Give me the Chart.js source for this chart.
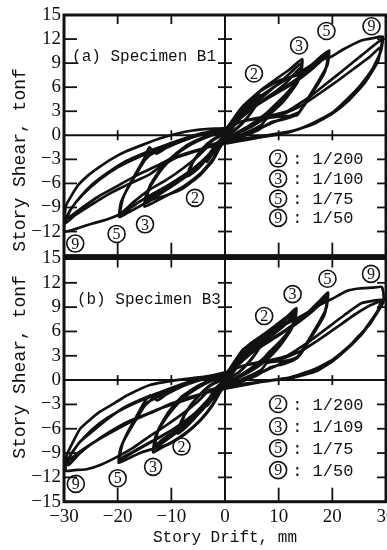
<!DOCTYPE html>
<html><head><meta charset="utf-8">
<script src="https://cdn.jsdelivr.net/npm/chart.js@4/dist/chart.umd.min.js"></script>
<style>
html,body{margin:0;padding:0;background:#fff;overflow:hidden;width:387px;height:550px;position:relative}
canvas{position:absolute;left:0}
#ca{top:0}
#cb{top:240px}
</style></head><body>
<canvas id="ca" width="400" height="270"></canvas>
<canvas id="cb" width="400" height="310"></canvas>
<script>
// ---------- data (story drift mm, story shear tonf) ----------
const xTickValues = [-30,-20,-10,0,10,20,30];
const yTickValues = [-15,-12,-9,-6,-3,0,3,6,9,12,15];
const legendIds = ['2','3','5','9'];
const legendB1 = ['1/200','1/100','1/75','1/50'];
const legendB3 = ['1/200','1/109','1/75','1/50'];

const b1Cycle1 = [[0,0],[1,1.1],[2.2,2.3],[3.2,3.2],[2.8,2.4],[1.5,1.0],[0,0.1],[-1.2,-1.0],[-2.4,-2.4],[-3.4,-3.3],[-3,-2.5],[-1.6,-1.0],[0,0]];
const b1Cycle2 = [[0,0],[1.2,1.4],[2.6,2.8],[4,3.9],[5.3,4.6],[6.4,5.1],[6.1,4.2],[5,3.0],[3.6,1.8],[2,0.8],[0,0],[-1.5,-1.2],[-3,-2.6],[-4.5,-3.8],[-5.8,-4.6],[-7,-5.1],[-6.6,-4.1],[-5.4,-2.8],[-3.8,-1.5],[-2,-0.5],[0,0.2],[1.5,1.5],[3,2.9],[4.5,4.0],[6.3,4.8],[5.9,3.9],[4.6,2.6],[3,1.3],[1.2,0.3],[-0.5,-0.4],[-2,-1.6],[-3.8,-3.0],[-5.5,-4.2],[-6.9,-4.8],[-6.4,-3.8],[-5,-2.3],[-3.2,-1.0],[-1.5,-0.2],[0,0.3],
  [1,1.0],[2.5,2.2],[4,3.3],[5.5,4.3],[6.1,4.6],[5.5,3.5],[4.2,2.2],[2.5,1.0],[0.5,0],[-1,-0.8],[-2.7,-2.2],[-4.5,-3.5],[-6.2,-4.4],[-6.7,-4.6],[-6,-3.4],[-4.5,-2.0],[-2.5,-0.7],[-0.5,0.2],[0,0.3]];
const b1Cycle3 = [[0,0.3],[1,1.4],[2.5,2.9],[4.5,4.3],[7,5.8],[9.5,7.0],[12,8.2],[14.4,9.5],[14.1,7.5],[12.5,6.0],[10.9,4.8],[9,3.6],[7.8,2.8],[6,1.9],[4,1.0],[1.8,0.2],[0,-0.3],[-1,-1.2],[-2.2,-2.9],[-4.5,-4.7],[-7.8,-6.4],[-10.5,-7.4],[-12.8,-8.2],[-15,-8.9],[-14.6,-7.2],[-13.2,-5.6],[-11.5,-4.0],[-9.5,-2.6],[-7,-1.4],[-4,-0.4],[-1.5,0.2],[0,0.4],[1.5,1.4],[3.5,2.8],[6.5,4.5],[9.5,6.2],[12.2,7.8],[14.2,9.0],[13.8,7.2],[11.5,5.0],[9,3.2],[6.5,1.8],[4,0.8],[1.5,0.0],[-0.5,-0.6],[-2,-1.8],[-4,-3.3],[-7,-5.0],[-10,-6.4],[-13,-7.7],[-14.8,-8.5],[-14.3,-6.8],[-12.5,-4.8],[-10,-2.8],[-7,-1.2],[-3.5,-0.1],[0,0.4],
  [2,1.6],[5,3.3],[8.5,5.0],[11.5,6.6],[14,8.4],[13.5,6.6],[11,4.3],[8,2.4],[5,1.1],[2,0.1],[-1,-0.9],[-3,-2.4],[-6,-4.2],[-9.5,-5.8],[-12.5,-7.1],[-14.6,-8.1],[-14,-6.3],[-11.8,-4.0],[-8.8,-2.1],[-5.5,-0.8],[-2,0.2],[0,0.5]];
const b1Cycle5 = [[0,0.4],[1,1.5],[3.4,3.7],[6.6,5.5],[10,6.8],[12.5,7.3],[14.1,7.6],[16,8.7],[17.8,9.8],[19.4,10.6],[19.1,8.8],[17.8,7.2],[16,5.2],[14.5,3.6],[13.4,2.5],[11.5,2.4],[9.5,2.3],[7.8,2.1],[6.8,1.3],[4.5,0.5],[2,-0.2],[0,-0.6],[-1,-1.6],[-2.3,-3.2],[-4.7,-5.0],[-7.8,-6.6],[-11,-7.5],[-14,-8.1],[-16,-8.9],[-18,-9.6],[-19.7,-10.2],[-19.4,-8.4],[-18,-6.4],[-16.5,-4.6],[-15,-2.8],[-14.1,-1.5],[-12.8,-2.3],[-11,-1.6],[-8,-0.7],[-4.5,0.1],[-1.5,0.5],[0,0.6],
  [1.5,1.6],[4.5,3.3],[8,4.8],[11.5,6.2],[15,7.8],[17.5,9.2],[19.3,10.2],[18.8,8.3],[16.5,5.6],[14.8,3.8],[13.5,2.6],[11,2.0],[8.5,1.6],[6,0.6],[3,-0.2],[0,-0.7],[-2,-2.1],[-5,-3.8],[-8.5,-5.4],[-12,-6.8],[-15,-7.9],[-17.5,-9.0],[-19.6,-9.9],[-19.1,-8.0],[-17.2,-5.4],[-15.2,-3.3],[-13.5,-2.2],[-10,-1.2],[-6,-0.2],[-2,0.5],[0,0.7],
  [2,1.8],[5.5,3.6],[9.5,5.2],[13,6.6],[16.5,8.4],[19.2,10.0],[18.6,7.9],[16.2,5.2],[13.8,2.9],[10,1.9],[7,1.0],[3.5,0],[0,-0.7],[-2.5,-2.3],[-6,-4.2],[-10,-6.0],[-13.5,-7.3],[-16.5,-8.5],[-19.5,-9.7],[-18.9,-7.6],[-16.5,-4.8],[-14.5,-2.7],[-11,-1.5],[-7,-0.4],[-3,0.3],[0,0.7]];
const b1Cycle9 = [[0,0.7],[1.5,1.8],[4,3.6],[7.5,5.3],[11,6.8],[14.5,8.1],[17.5,9.3],[19.8,9.8],[22,10.7],[25.3,11.8],[27.5,12.1],[29.4,12.3],[29.1,10.6],[27.5,8.3],[25.3,6.3],[23.5,5.0],[20.5,3.1],[17.8,2.0],[15,1.1],[12.8,0.6],[7.8,0],[1.6,-0.6],[-2.8,-1.2],[-5,-2.6],[-8,-4.2],[-11,-5.6],[-14.1,-6.8],[-17,-8.3],[-19.5,-9.8],[-22,-10.5],[-24.7,-11.0],[-27.5,-11.6],[-30,-12.0],[-29.7,-8.9],[-28.5,-7.4],[-27.2,-6.1],[-25.5,-5.0],[-23.5,-4.0],[-21,-2.9],[-18.4,-2.0],[-15,-1.1],[-12.2,-0.4],[-9,0.2],[-6,0.6],[-3,0.8],[0.3,0.9],
  [1,1.2],[4,1.9],[8,2.4],[11.6,3.0],[14,4.0],[16,4.9],[19,6.5],[22.2,8.2],[25.5,10.0],[29.2,11.9],[28.8,10.0],[27,7.6],[25,5.8],[22,3.8],[19,2.4],[16,1.3],[12,0.4],[7,-0.2],[2,-0.7],[-2.5,-1.3],[-5,-1.9],[-9.1,-2.8],[-12,-3.9],[-14.1,-4.9],[-18,-6.1],[-21.6,-7.3],[-25,-8.7],[-28,-10.0],[-29.8,-11.0],[-29.1,-9.6],[-27,-7.7],[-24.7,-6.1],[-21.5,-4.5],[-18.4,-3.2],[-15,-2.2],[-12.2,-1.5],[-8,-0.5],[-4,0.3],[0,0.8],
  [3,1.7],[7,2.2],[11,2.7],[14.5,3.8],[18,5.4],[21,6.8],[24,8.3],[27,9.8],[29,11.0],[28.5,9.2],[26,6.5],[23,4.3],[20,2.7],[16.5,1.4],[12,0.4],[7,-0.2],[2,-0.8],[-2.5,-1.4],[-6,-2.0],[-10,-2.9],[-13,-3.9],[-16.5,-5.0],[-20,-6.3],[-23.5,-7.6],[-27,-9.2],[-29.5,-10.4],[-28.7,-9.2],[-26.5,-7.4],[-23.5,-5.6],[-20,-4.0],[-16,-2.7],[-12,-1.7],[-8,-0.7],[-4,0.2],[0,0.7]];

const b3Cycle1 = [[0,0],[1,1.0],[2.2,2.2],[3.2,3.1],[2.8,2.3],[1.5,0.9],[0,0],[-1.2,-1.1],[-2.4,-2.4],[-3.4,-3.2],[-3,-2.4],[-1.6,-0.9],[0,0]];
const b3Cycle2 = [[0,0],[1.3,1.4],[2.8,2.9],[4.3,4.0],[5.7,4.8],[7.1,5.5],[6.8,4.5],[5.6,3.2],[4,1.9],[2.2,0.8],[0,0],[-1.6,-1.3],[-3.3,-2.8],[-5,-4.2],[-6.8,-5.5],[-8.8,-6.6],[-8.3,-5.3],[-7,-3.7],[-5,-2.0],[-2.5,-0.6],[0,0.2],[1.6,1.5],[3.2,2.9],[5,4.1],[6.9,5.1],[6.5,4.1],[5,2.6],[3.2,1.3],[1.2,0.3],[-0.5,-0.4],[-2.2,-1.8],[-4.2,-3.4],[-6.3,-4.8],[-8.5,-6.1],[-7.9,-4.8],[-6.3,-3.0],[-4,-1.3],[-1.8,-0.2],[0,0.3],
  [1.1,1.0],[2.7,2.3],[4.4,3.5],[6.2,4.6],[6.8,4.9],[6.1,3.7],[4.6,2.3],[2.7,1.0],[0.5,0],[-1.2,-0.9],[-3,-2.3],[-5,-3.7],[-7,-5.0],[-8.3,-5.8],[-7.5,-4.3],[-5.6,-2.5],[-3.2,-0.9],[-0.8,0.2],[0,0.3]];
const b3Cycle3 = [[0,0.3],[1,1.4],[2.5,2.9],[4.5,4.4],[7.1,5.6],[9.5,6.8],[11.5,7.8],[13.3,8.9],[13.0,7.2],[11.6,5.8],[10,4.6],[8.3,3.5],[7.2,2.7],[5.5,1.8],[3.8,1.0],[1.8,0.2],[0,-0.3],[-1,-1.3],[-2.3,-3.0],[-4.6,-4.9],[-7.5,-6.6],[-10,-7.7],[-12,-8.4],[-13.4,-8.9],[-13.0,-7.1],[-11.8,-5.5],[-10.2,-4.0],[-8.5,-2.7],[-6.3,-1.5],[-3.8,-0.5],[-1.5,0.2],[0,0.4],[1.5,1.4],[3.5,2.8],[6.2,4.4],[8.8,6.0],[11.2,7.4],[13.1,8.4],[12.7,6.8],[10.7,4.8],[8.4,3.1],[6,1.8],[3.8,0.8],[1.5,0.0],[-0.5,-0.6],[-2,-1.9],[-4,-3.5],[-6.6,-5.2],[-9.3,-6.6],[-11.8,-7.8],[-13.2,-8.4],[-12.7,-6.6],[-11,-4.7],[-8.8,-2.8],[-6,-1.2],[-3,-0.1],[0,0.4],
  [2,1.6],[5,3.4],[8.2,5.2],[11,6.7],[12.9,8.0],[12.4,6.3],[10.2,4.2],[7.6,2.4],[4.8,1.1],[2,0.1],[-1,-1.0],[-3,-2.6],[-5.8,-4.4],[-9,-6.1],[-11.6,-7.3],[-13,-8.0],[-12.4,-6.1],[-10.5,-3.9],[-8,-2.0],[-5,-0.7],[-2,0.2],[0,0.5]];
const b3Cycle5 = [[0,0.4],[1,1.5],[3.4,3.8],[7.1,5.4],[10.9,7.0],[13,7.4],[14,7.5],[16,8.7],[17.8,9.9],[19.2,10.8],[18.9,8.9],[17.6,7.2],[15.8,5.2],[14.4,3.7],[13.3,2.7],[11.5,2.4],[9.5,2.3],[7.8,2.1],[6.8,1.3],[4.5,0.5],[2,-0.2],[0,-0.6],[-1,-1.6],[-2.3,-3.1],[-4.6,-5.0],[-7.5,-6.7],[-10.5,-7.9],[-13.5,-8.5],[-15.5,-8.9],[-17.8,-9.6],[-19.8,-10.2],[-19.5,-8.5],[-18.2,-6.5],[-16.6,-4.6],[-15.2,-2.9],[-14,-1.9],[-12.6,-2.5],[-11,-1.8],[-8,-0.8],[-4.5,0.1],[-1.5,0.5],[0,0.6],
  [1.5,1.6],[4.5,3.3],[8,4.8],[11.5,6.3],[15,8.0],[17.5,9.4],[19.1,10.3],[18.6,8.4],[16.4,5.7],[14.7,3.9],[13.4,2.7],[11,2.0],[8.5,1.6],[6,0.6],[3,-0.2],[0,-0.7],[-2,-2.1],[-5,-3.9],[-8.5,-5.6],[-12,-7.0],[-15,-8.1],[-17.6,-9.1],[-19.7,-9.9],[-19.2,-8.0],[-17.3,-5.4],[-15.3,-3.4],[-13.5,-2.3],[-10,-1.3],[-6,-0.3],[-2,0.5],[0,0.7],
  [2,1.8],[5.5,3.6],[9.5,5.3],[13,6.8],[16.5,8.6],[19.1,10.1],[18.5,8.0],[16.1,5.3],[13.8,3.0],[10,1.9],[7,1.0],[3.5,0],[0,-0.7],[-2.5,-2.3],[-6,-4.3],[-10,-6.2],[-13.5,-7.5],[-16.5,-8.6],[-19.6,-9.6],[-19.0,-7.7],[-16.6,-4.9],[-14.5,-2.8],[-11,-1.6],[-7,-0.5],[-3,0.3],[0,0.7]];
const b3Cycle9 = [[0,0.7],[1.5,1.8],[4,3.6],[7.5,5.3],[11,6.8],[14.5,8.0],[17.5,9.2],[19.9,10.0],[22.7,11.0],[25,11.3],[27.5,11.4],[29.2,11.5],[29.5,10.8],[29.5,9.6],[28.5,8.5],[27,6.9],[25,5.5],[22.5,3.7],[20,2.3],[17,1.1],[12.7,0.3],[7.8,-0.1],[1.6,-0.6],[-2.8,-1.2],[-5,-2.6],[-8,-4.2],[-11,-5.6],[-14,-6.9],[-17,-8.3],[-20.2,-9.5],[-23,-10.4],[-25.8,-11.0],[-28,-11.1],[-29.6,-11.2],[-29.7,-10.3],[-29.5,-9.3],[-28.3,-7.6],[-27,-6.0],[-25,-4.8],[-23.3,-3.9],[-20.5,-2.8],[-18.3,-1.9],[-14,-0.6],[-9,0],[-4,0.4],[0.3,1.0],
  [1,1.2],[4,1.9],[8,2.4],[11.6,3.0],[14,4.0],[16,4.9],[19,6.4],[22.2,8.0],[25.5,9.5],[29.3,9.9],[28.8,8.8],[27,7.0],[25,5.3],[22,3.4],[19,2.0],[16,1.0],[12,0.3],[7,-0.2],[2,-0.7],[-2.5,-1.3],[-5,-1.9],[-8,-2.6],[-12.1,-3.5],[-15,-4.3],[-18.3,-5.2],[-21.5,-6.4],[-24.5,-7.7],[-27,-9.0],[-29.2,-10.5],[-28.9,-9.4],[-27,-7.6],[-24.5,-6.2],[-21.5,-4.6],[-18.3,-3.2],[-15,-2.2],[-12.1,-1.5],[-8,-0.5],[-4,0.3],[0,0.8],
  [3,1.7],[7,2.2],[11,2.7],[14.5,3.7],[18,5.2],[21,6.6],[24,8.0],[27,9.2],[29,9.7],[28.4,8.5],[26,6.2],[23,4.1],[20,2.5],[16.5,1.3],[12,0.3],[7,-0.2],[2,-0.8],[-2.5,-1.4],[-6,-2.0],[-10,-2.9],[-13,-3.8],[-16.5,-4.8],[-20,-6.0],[-23.5,-7.3],[-27,-8.8],[-29.3,-10.0],[-28.5,-8.9],[-26.3,-7.1],[-23.5,-5.4],[-20,-3.9],[-16,-2.6],[-12,-1.6],[-8,-0.6],[-4,0.2],[0,0.7]];

// ---------- drawing helpers ----------
const INK = '#111111';
const MINUS = '\u2212';
function fmt(v){ return v < 0 ? MINUS + Math.abs(v) : String(v); }
function toPts(a){ return a.map(p => ({x:p[0], y:p[1]})); }
function loopSet(arr){
  return {data: toPts(arr), showLine:true, borderColor:INK, borderWidth:2.7, pointRadius:0, tension:0.15, fill:false, borderJoinStyle:'round', borderCapStyle:'round'};
}

const framePlugin = {
  id: 'frame',
  beforeDatasetsDraw(chart, args, o){
    const {ctx, chartArea:a, scales:{x, y}} = chart;
    const ln = (x1,y1,x2,y2) => { ctx.beginPath(); ctx.moveTo(x1,y1); ctx.lineTo(x2,y2); ctx.stroke(); };
    ctx.save();
    ctx.strokeStyle = INK;
    const x0 = x.getPixelForValue(0), y0 = y.getPixelForValue(0);
    ctx.lineWidth = 2; ln(x0, a.top, x0, a.bottom); ln(a.left, y0, a.right, y0);
    ctx.lineWidth = 1.8;
    for (const v of yTickValues){
      if (Math.abs(v) === 15 || v === 0) continue;
      const p = y.getPixelForValue(v);
      ln(a.left, p, a.left + 13, p); ln(a.right - 9, p, a.right, p); ln(x0 - 7, p, x0 + 7, p);
    }
    for (const v of xTickValues){
      if (Math.abs(v) === 30 || v === 0) continue;
      const p = x.getPixelForValue(v);
      ln(p, a.top, p, a.top + 9); ln(p, a.bottom - o.bottomTick, p, a.bottom); ln(p, y0 - 5, p, y0 + 5);
    }
    ctx.restore();
  },
  afterDraw(chart, args, o){
    const {ctx, chartArea:a, scales:{x, y}} = chart;
    ctx.save();
    ctx.strokeStyle = INK; ctx.fillStyle = INK;
    ctx.lineWidth = 3;
    ctx.strokeRect(a.left, a.top, a.right - a.left, a.bottom - a.top);
    // axis title (y)
    ctx.save();
    ctx.translate(o.yTitleX, o.yTitleY); ctx.rotate(-Math.PI/2);
    ctx.font = '18px "Liberation Mono"'; ctx.textAlign = 'center'; ctx.textBaseline = 'middle';
    ctx.fillText('Story Shear, tonf', 0, 0);
    ctx.restore();
    // specimen label
    ctx.font = '16px "Liberation Mono"'; ctx.textAlign = 'left'; ctx.textBaseline = 'middle';
    ctx.fillText(o.title.text, x.getPixelForValue(o.title.x), y.getPixelForValue(o.title.y));
    // circled cycle labels
    const circ = (t, px, py) => {
      ctx.lineWidth = 1.6; ctx.beginPath(); ctx.arc(px, py, 8.5, 0, Math.PI*2); ctx.stroke();
      ctx.font = '16px "Liberation Serif"'; ctx.textAlign = 'center'; ctx.textBaseline = 'middle';
      ctx.fillText(t, px, py + 1);
    };
    for (const c of o.circled) circ(c.t, x.getPixelForValue(c.x), y.getPixelForValue(c.y));
    // legend
    const lx = x.getPixelForValue(o.legend.x);
    o.legend.ys.forEach((yy, i) => {
      const py = y.getPixelForValue(yy);
      circ(legendIds[i], lx, py);
      ctx.font = '17px "Liberation Mono"'; ctx.textAlign = 'left'; ctx.textBaseline = 'middle';
      ctx.fillText(': ' + o.legend.texts[i], lx + 14, py + 1);
    });
    ctx.restore();
  }
};

function yScale(hideBottom){
  return {
    min:-15, max:15,
    ticks:{stepSize:3, autoSkip:false, padding:3, color:INK, font:{family:'Liberation Serif', size:19},
      callback:(v) => (hideBottom && v === -15) ? '' : fmt(v)},
    grid:{display:false, drawTicks:false}, border:{display:false},
    afterFit:(s) => { s.width = 64; }
  };
}

function makeChart(id, sets, xOpts, plug, pad){
  return new Chart(document.getElementById(id), {
    type:'scatter',
    data:{datasets: sets.map(loopSet)},
    options:{
      responsive:false, animation:false, devicePixelRatio:1,
      layout:{padding:pad},
      plugins:{legend:{display:false}, tooltip:{enabled:false}, frame:plug},
      scales:{x:xOpts, y:yScale(plug.hideBottom)}
    },
    plugins:[framePlugin]
  });
}

makeChart('ca', [b1Cycle1,b1Cycle2,b1Cycle3,b1Cycle5,b1Cycle9],
  {min:-30, max:30, display:false, ticks:{stepSize:10}, grid:{display:false}},
  {hideBottom:true, bottomTick:13, yTitleX:20, yTitleY:160,
   title:{text:'(a) Specimen B1', x:-28.5, y:9.8},
   circled:[{t:'2',x:5.4,y:7.7},{t:'3',x:13.8,y:11.2},{t:'5',x:18.9,y:13.0},{t:'9',x:27.3,y:13.6},
            {t:'2',x:-5.6,y:-7.8},{t:'3',x:-14.9,y:-11.1},{t:'5',x:-20.2,y:-12.3},{t:'9',x:-27.9,y:-13.5}],
   legend:{x:9.9, ys:[-2.9,-5.4,-7.9,-10.3], texts:legendB1}},
  {top:15, bottom:11.5, left:0, right:14});

makeChart('cb', [b3Cycle1,b3Cycle2,b3Cycle3,b3Cycle5,b3Cycle9],
  {min:-30, max:30, position:'bottom',
   ticks:{stepSize:10, autoSkip:false, maxRotation:0, padding:4, color:INK, font:{family:'Liberation Serif', size:19}, callback:(v) => fmt(v)},
   grid:{display:false, drawTicks:false}, border:{display:false},
   title:{display:true, text:'Story Drift, mm', color:INK, font:{family:'Liberation Mono', size:16}, padding:{top:0, bottom:2.4}},
   afterFit:(s) => { s.height = 48.3; }},
  {hideBottom:false, bottomTick:14, yTitleX:20, yTitleY:127,
   title:{text:'(b) Specimen B3', x:-27.6, y:9.9},
   circled:[{t:'2',x:7.3,y:7.9},{t:'3',x:12.6,y:10.6},{t:'5',x:19.1,y:12.5},{t:'9',x:27.2,y:13.1},
            {t:'2',x:-8.1,y:-8.2},{t:'3',x:-13.4,y:-10.7},{t:'5',x:-20.0,y:-12.1},{t:'9',x:-27.8,y:-12.8}],
   legend:{x:9.9, ys:[-2.95,-5.7,-8.4,-11.1], texts:legendB3}},
  {top:18.5, bottom:0, left:0, right:14});
</script>
</body></html>
